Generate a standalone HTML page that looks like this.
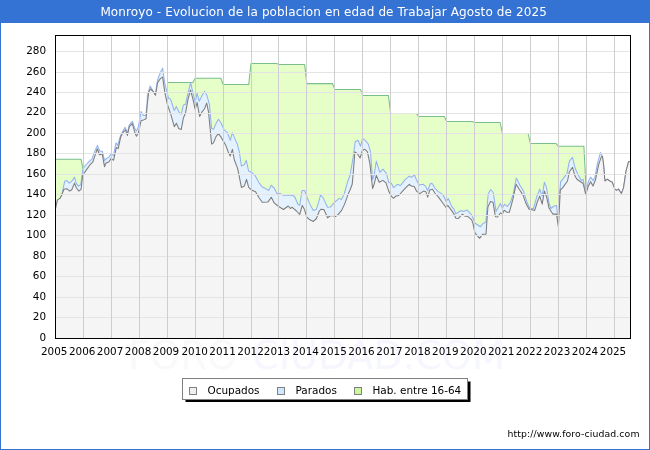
<!DOCTYPE html>
<html><head><meta charset="utf-8"><title>Monroyo</title>
<style>html,body{margin:0;padding:0;background:#fff;width:650px;height:450px;overflow:hidden}</style>
</head><body>
<svg width="650" height="450" viewBox="0 0 650 450" style="position:absolute;left:0;top:0;will-change:transform" font-family="'DejaVu Sans','Liberation Sans',sans-serif">
<rect x="0" y="0" width="650" height="450" fill="#fff"/>
<text x="128" y="368.5" font-size="38.4" textLength="377" lengthAdjust="spacingAndGlyphs"><tspan fill="#f9f9f9">FORO-</tspan><tspan fill="#f6f6ff">CIUDAD.COM</tspan></text>
<rect x="55" y="35" width="576" height="304" fill="#fff"/>
<clipPath id="cp"><rect x="55" y="35" width="576" height="304"/></clipPath>
<g clip-path="url(#cp)">
<polygon points="55.5,159.3 81.1,159.3 83.4,171.0 84,339 55,339" fill="#e6ffc8"/>
<polygon points="167.2,82.4 192.8,82.4 195.2,78.3 220.8,78.3 223.1,84.5 248.7,84.5 251.0,63.5 276.7,63.5 279.0,64.4 304.6,64.4 306.9,83.6 332.5,83.6 334.9,89.4 360.5,89.4 362.8,95.4 388.4,95.4 390.7,113.4 416.3,113.4 418.7,116.4 444.3,116.4 446.6,121.5 472.2,121.5 474.5,122.4 500.1,122.4 502.5,133.5 528.1,133.5 530.4,143.4 556.0,143.4 558.3,146.3 583.9,146.3 586.3,193.5 586.3,339 167.2,339" fill="#e6ffc8"/>
<polyline points="55.5,159.3 81.1,159.3 83.4,171.0" fill="none" stroke="#7abf8b" stroke-width="1.05"/>
<polyline points="167.2,82.4 192.8,82.4 195.2,78.3 220.8,78.3 223.1,84.5 248.7,84.5 251.0,63.5 276.7,63.5 279.0,64.4 304.6,64.4 306.9,83.6 332.5,83.6 334.9,89.4 360.5,89.4 362.8,95.4 388.4,95.4 390.7,113.4 416.3,113.4 418.7,116.4 444.3,116.4 446.6,121.5 472.2,121.5 474.5,122.4 500.1,122.4 502.5,133.5 528.1,133.5 530.4,143.4 556.0,143.4 558.3,146.3 583.9,146.3 586.3,193.5" fill="none" stroke="#7abf8b" stroke-width="1.05"/>
<polygon points="55.5,208.6 57.5,199.9 60.0,198.4 61.8,194.9 63.1,188.7 64.7,181.2 66.8,180.6 69.3,183.1 71.8,181.2 74.5,177.2 76.4,183.7 78.4,186.2 80.8,184.3 82.6,171.2 84.2,166.9 88.1,162.5 92.1,158.8 94.0,152.9 97.4,145.4 99.9,151.3 102.4,151.3 104.6,160.7 106.1,158.8 109.2,156.9 110.8,154.1 113.6,155.4 116.0,142.8 117.6,145.4 120.6,135.4 123.1,130.5 125.2,127.4 127.4,133.0 129.3,124.9 132.4,121.4 134.6,128.0 136.4,131.1 138.4,126.7 141.1,111.4 143.3,115.5 145.8,115.5 147.1,103.7 147.4,95.8 150.1,85.9 153.0,90.8 155.5,93.9 157.6,79.6 160.5,72.2 162.6,68.2 164.8,83.4 167.3,93.3 168.6,98.3 170.4,98.9 172.3,104.5 174.2,110.6 176.3,106.4 178.5,111.3 181.2,114.3 183.4,104.9 185.5,104.3 188.0,93.1 190.6,82.7 193.0,93.1 195.2,102.4 197.1,93.1 199.2,101.2 201.7,96.2 204.5,91.2 207.0,95.6 209.5,104.9 211.6,128.6 213.5,129.2 216.0,123.6 218.5,119.2 221.0,123.0 224.1,129.8 227.2,132.3 230.3,140.4 232.3,132.7 234.8,138.6 237.4,144.3 239.3,151.7 241.4,166.0 244.2,164.8 246.3,160.4 248.6,171.0 252.1,172.5 255.5,176.2 259.2,183.0 262.3,187.1 265.4,188.4 268.6,190.5 271.3,185.3 274.2,188.0 277.0,193.4 280.4,193.6 283.5,195.2 292.2,195.2 294.7,196.7 297.8,204.0 299.7,205.4 302.1,190.5 304.6,190.5 307.3,198.0 310.5,205.4 313.4,210.4 316.4,209.2 318.6,202.3 320.5,195.2 323.0,197.4 325.5,203.0 327.6,207.3 330.4,207.1 332.9,204.2 335.4,201.7 339.2,198.4 341.3,199.6 344.1,194.3 347.2,183.1 350.2,174.5 353.1,157.4 355.2,141.8 358.0,140.2 360.5,146.2 362.6,138.5 365.5,140.6 368.4,144.3 370.5,151.8 372.6,179.8 374.2,174.8 376.3,161.1 379.8,172.3 382.9,169.2 386.4,173.3 388.7,182.4 391.2,183.0 393.5,187.6 397.4,184.3 400.5,185.5 404.9,179.9 409.3,176.2 411.4,177.4 414.5,175.0 416.7,180.5 419.2,184.9 422.9,184.3 425.4,185.9 427.7,190.5 430.4,183.4 432.5,183.7 434.8,188.0 437.9,191.4 441.6,193.6 444.1,196.7 446.2,201.7 448.2,198.5 451.7,206.3 454.0,209.2 455.8,213.8 461.2,210.5 463.7,211.4 467.1,210.1 471.7,214.9 474.9,223.0 480.4,226.7 482.9,223.6 485.8,222.3 488.2,194.0 490.7,189.5 493.3,192.8 496.0,211.5 500.4,203.4 502.3,208.3 504.5,204.3 507.2,206.4 510.4,202.6 513.2,194.0 516.3,178.1 519.8,184.9 523.5,191.1 526.6,201.1 529.8,208.5 533.5,208.5 536.6,197.3 539.7,189.3 542.2,196.1 544.4,182.2 546.5,187.4 549.0,202.9 550.9,208.5 554.0,206.0 556.5,205.4 557.4,214.0 558.4,226.5 559.6,195.0 560.6,181.7 563.2,178.6 566.9,173.6 569.4,161.1 572.5,157.4 575.0,168.0 578.1,174.8 581.2,180.4 583.1,179.2 585.8,193.5 588.1,182.3 590.6,177.1 593.0,180.4 594.9,177.3 597.4,163.6 600.5,152.4 602.4,156.2 603.6,164.9 604.9,181.0 607.3,179.2 609.8,181.0 612.3,182.3 614.8,189.1 616.7,190.4 618.5,189.1 621.4,193.5 623.5,187.9 626.0,171.1 628.5,161.8 630.4,161.4 630.5,339 55.5,339" fill="#e4f2ff"/>
<polyline points="55.5,208.6 57.5,199.9 60.0,198.4 61.8,194.9 63.1,188.7 64.7,181.2 66.8,180.6 69.3,183.1 71.8,181.2 74.5,177.2 76.4,183.7 78.4,186.2 80.8,184.3 82.6,171.2 84.2,166.9 88.1,162.5 92.1,158.8 94.0,152.9 97.4,145.4 99.9,151.3 102.4,151.3 104.6,160.7 106.1,158.8 109.2,156.9 110.8,154.1 113.6,155.4 116.0,142.8 117.6,145.4 120.6,135.4 123.1,130.5 125.2,127.4 127.4,133.0 129.3,124.9 132.4,121.4 134.6,128.0 136.4,131.1 138.4,126.7 141.1,111.4 143.3,115.5 145.8,115.5 147.1,103.7 147.4,95.8 150.1,85.9 153.0,90.8 155.5,93.9 157.6,79.6 160.5,72.2 162.6,68.2 164.8,83.4 167.3,93.3 168.6,98.3 170.4,98.9 172.3,104.5 174.2,110.6 176.3,106.4 178.5,111.3 181.2,114.3 183.4,104.9 185.5,104.3 188.0,93.1 190.6,82.7 193.0,93.1 195.2,102.4 197.1,93.1 199.2,101.2 201.7,96.2 204.5,91.2 207.0,95.6 209.5,104.9 211.6,128.6 213.5,129.2 216.0,123.6 218.5,119.2 221.0,123.0 224.1,129.8 227.2,132.3 230.3,140.4 232.3,132.7 234.8,138.6 237.4,144.3 239.3,151.7 241.4,166.0 244.2,164.8 246.3,160.4 248.6,171.0 252.1,172.5 255.5,176.2 259.2,183.0 262.3,187.1 265.4,188.4 268.6,190.5 271.3,185.3 274.2,188.0 277.0,193.4 280.4,193.6 283.5,195.2 292.2,195.2 294.7,196.7 297.8,204.0 299.7,205.4 302.1,190.5 304.6,190.5 307.3,198.0 310.5,205.4 313.4,210.4 316.4,209.2 318.6,202.3 320.5,195.2 323.0,197.4 325.5,203.0 327.6,207.3 330.4,207.1 332.9,204.2 335.4,201.7 339.2,198.4 341.3,199.6 344.1,194.3 347.2,183.1 350.2,174.5 353.1,157.4 355.2,141.8 358.0,140.2 360.5,146.2 362.6,138.5 365.5,140.6 368.4,144.3 370.5,151.8 372.6,179.8 374.2,174.8 376.3,161.1 379.8,172.3 382.9,169.2 386.4,173.3 388.7,182.4 391.2,183.0 393.5,187.6 397.4,184.3 400.5,185.5 404.9,179.9 409.3,176.2 411.4,177.4 414.5,175.0 416.7,180.5 419.2,184.9 422.9,184.3 425.4,185.9 427.7,190.5 430.4,183.4 432.5,183.7 434.8,188.0 437.9,191.4 441.6,193.6 444.1,196.7 446.2,201.7 448.2,198.5 451.7,206.3 454.0,209.2 455.8,213.8 461.2,210.5 463.7,211.4 467.1,210.1 471.7,214.9 474.9,223.0 480.4,226.7 482.9,223.6 485.8,222.3 488.2,194.0 490.7,189.5 493.3,192.8 496.0,211.5 500.4,203.4 502.3,208.3 504.5,204.3 507.2,206.4 510.4,202.6 513.2,194.0 516.3,178.1 519.8,184.9 523.5,191.1 526.6,201.1 529.8,208.5 533.5,208.5 536.6,197.3 539.7,189.3 542.2,196.1 544.4,182.2 546.5,187.4 549.0,202.9 550.9,208.5 554.0,206.0 556.5,205.4 557.4,214.0 558.4,226.5 559.6,195.0 560.6,181.7 563.2,178.6 566.9,173.6 569.4,161.1 572.5,157.4 575.0,168.0 578.1,174.8 581.2,180.4 583.1,179.2 585.8,193.5 588.1,182.3 590.6,177.1 593.0,180.4 594.9,177.3 597.4,163.6 600.5,152.4 602.4,156.2 603.6,164.9 604.9,181.0 607.3,179.2 609.8,181.0 612.3,182.3 614.8,189.1 616.7,190.4 618.5,189.1 621.4,193.5 623.5,187.9 626.0,171.1 628.5,161.8 630.4,161.4" fill="none" stroke="#93b2ed" stroke-width="1.05" stroke-linejoin="round"/>
<polygon points="55.5,208.6 57.5,199.9 60.0,198.4 61.8,194.9 63.9,189.3 66.8,188.7 69.7,191.1 71.8,189.7 74.5,183.1 76.4,188.0 78.9,191.1 81.1,189.3 82.6,175.5 84.2,173.0 87.3,168.6 90.4,164.3 92.9,161.8 94.8,156.2 97.3,148.7 99.5,154.7 102.2,153.9 104.5,166.7 106.0,163.0 108.8,162.0 111.0,158.6 113.6,160.2 116.3,147.5 118.2,148.6 120.6,137.3 123.1,132.3 125.5,129.9 127.4,135.4 129.3,126.7 132.4,123.6 134.6,131.7 136.4,136.3 138.4,133.0 141.1,120.5 143.6,119.9 146.1,118.7 147.3,103.7 148.7,92.1 150.5,89.0 153.0,91.4 155.5,95.2 157.6,82.7 160.5,78.4 162.6,77.1 164.8,92.1 167.5,104.9 170.6,113.6 174.3,126.7 176.4,123.3 178.7,128.6 181.2,129.6 183.4,118.0 185.5,113.0 188.0,99.3 190.5,90.0 193.0,99.3 195.2,109.3 197.1,102.4 199.6,116.4 201.7,112.4 204.5,108.7 206.7,103.1 208.5,111.8 211.6,144.1 213.5,142.9 216.0,136.6 218.5,133.5 221.2,137.4 225.6,144.9 228.1,151.7 230.2,156.1 232.4,149.3 234.3,159.8 237.4,167.9 238.7,173.7 241.4,187.4 244.3,186.1 246.5,179.3 248.7,187.4 251.4,189.9 255.5,191.7 259.2,198.0 262.3,202.3 267.9,202.1 271.3,197.3 274.2,202.9 277.9,206.0 283.5,209.5 288.2,206.0 290.3,208.5 292.2,207.3 296.5,211.0 299.7,214.5 302.3,205.4 304.6,209.8 306.6,217.0 309.9,219.8 313.4,221.4 316.4,218.5 319.3,211.0 321.1,209.2 323.9,209.6 326.1,214.2 327.6,217.9 329.8,216.0 332.3,215.4 335.4,216.6 337.9,214.8 341.6,210.4 344.8,203.6 347.9,194.9 350.3,189.3 352.2,184.3 353.3,172.3 354.9,151.8 357.4,153.7 360.1,158.0 362.4,150.5 364.9,149.3 367.4,151.8 369.9,163.6 372.6,188.5 374.2,184.1 376.3,175.4 379.2,182.3 382.9,180.4 386.0,182.9 388.7,191.1 391.2,196.1 393.5,198.3 395.6,196.3 398.7,195.5 403.7,189.9 407.4,186.1 409.3,184.3 411.4,186.1 414.2,186.4 416.7,191.4 419.8,193.6 423.6,191.1 425.8,191.7 427.7,197.1 429.8,189.9 432.5,189.3 434.8,193.0 438.5,197.1 442.2,202.3 445.9,207.3 447.8,205.4 451.5,210.4 454.0,214.1 455.9,218.3 458.4,218.4 462.4,214.2 464.9,216.1 467.4,216.1 471.7,219.9 473.0,223.6 474.9,232.9 479.6,238.3 482.9,234.2 486.0,234.2 487.9,207.0 490.5,201.5 493.0,202.3 495.4,216.7 497.5,217.0 500.4,213.0 502.3,213.9 504.2,210.2 506.9,212.3 509.3,212.3 512.7,200.2 516.1,184.3 519.2,189.3 522.9,194.9 526.0,203.6 529.1,209.2 532.2,209.8 534.7,210.4 537.2,202.3 539.7,196.1 542.2,204.2 544.4,191.1 546.5,196.7 549.0,207.9 552.8,214.1 556.5,214.1 558.4,227.0 560.3,190.0 562.6,187.9 567.5,181.0 569.4,171.7 572.5,167.4 575.0,176.1 576.9,179.2 580.6,181.7 583.1,183.5 585.8,194.7 588.1,186.6 590.6,181.7 593.0,186.0 595.5,179.8 598.6,164.9 601.1,157.4 602.4,156.2 603.6,164.9 604.9,181.0 607.3,179.2 609.8,181.0 612.3,182.3 614.8,189.1 616.7,190.4 618.5,189.1 621.4,193.5 623.5,187.9 626.0,171.1 628.5,161.8 630.4,161.4 630.5,339 55.5,339" fill="#f5f5f5"/>
<polyline points="55.5,208.6 57.5,199.9 60.0,198.4 61.8,194.9 63.9,189.3 66.8,188.7 69.7,191.1 71.8,189.7 74.5,183.1 76.4,188.0 78.9,191.1 81.1,189.3 82.6,175.5 84.2,173.0 87.3,168.6 90.4,164.3 92.9,161.8 94.8,156.2 97.3,148.7 99.5,154.7 102.2,153.9 104.5,166.7 106.0,163.0 108.8,162.0 111.0,158.6 113.6,160.2 116.3,147.5 118.2,148.6 120.6,137.3 123.1,132.3 125.5,129.9 127.4,135.4 129.3,126.7 132.4,123.6 134.6,131.7 136.4,136.3 138.4,133.0 141.1,120.5 143.6,119.9 146.1,118.7 147.3,103.7 148.7,92.1 150.5,89.0 153.0,91.4 155.5,95.2 157.6,82.7 160.5,78.4 162.6,77.1 164.8,92.1 167.5,104.9 170.6,113.6 174.3,126.7 176.4,123.3 178.7,128.6 181.2,129.6 183.4,118.0 185.5,113.0 188.0,99.3 190.5,90.0 193.0,99.3 195.2,109.3 197.1,102.4 199.6,116.4 201.7,112.4 204.5,108.7 206.7,103.1 208.5,111.8 211.6,144.1 213.5,142.9 216.0,136.6 218.5,133.5 221.2,137.4 225.6,144.9 228.1,151.7 230.2,156.1 232.4,149.3 234.3,159.8 237.4,167.9 238.7,173.7 241.4,187.4 244.3,186.1 246.5,179.3 248.7,187.4 251.4,189.9 255.5,191.7 259.2,198.0 262.3,202.3 267.9,202.1 271.3,197.3 274.2,202.9 277.9,206.0 283.5,209.5 288.2,206.0 290.3,208.5 292.2,207.3 296.5,211.0 299.7,214.5 302.3,205.4 304.6,209.8 306.6,217.0 309.9,219.8 313.4,221.4 316.4,218.5 319.3,211.0 321.1,209.2 323.9,209.6 326.1,214.2 327.6,217.9 329.8,216.0 332.3,215.4 335.4,216.6 337.9,214.8 341.6,210.4 344.8,203.6 347.9,194.9 350.3,189.3 352.2,184.3 353.3,172.3 354.9,151.8 357.4,153.7 360.1,158.0 362.4,150.5 364.9,149.3 367.4,151.8 369.9,163.6 372.6,188.5 374.2,184.1 376.3,175.4 379.2,182.3 382.9,180.4 386.0,182.9 388.7,191.1 391.2,196.1 393.5,198.3 395.6,196.3 398.7,195.5 403.7,189.9 407.4,186.1 409.3,184.3 411.4,186.1 414.2,186.4 416.7,191.4 419.8,193.6 423.6,191.1 425.8,191.7 427.7,197.1 429.8,189.9 432.5,189.3 434.8,193.0 438.5,197.1 442.2,202.3 445.9,207.3 447.8,205.4 451.5,210.4 454.0,214.1 455.9,218.3 458.4,218.4 462.4,214.2 464.9,216.1 467.4,216.1 471.7,219.9 473.0,223.6 474.9,232.9 479.6,238.3 482.9,234.2 486.0,234.2 487.9,207.0 490.5,201.5 493.0,202.3 495.4,216.7 497.5,217.0 500.4,213.0 502.3,213.9 504.2,210.2 506.9,212.3 509.3,212.3 512.7,200.2 516.1,184.3 519.2,189.3 522.9,194.9 526.0,203.6 529.1,209.2 532.2,209.8 534.7,210.4 537.2,202.3 539.7,196.1 542.2,204.2 544.4,191.1 546.5,196.7 549.0,207.9 552.8,214.1 556.5,214.1 558.4,227.0 560.3,190.0 562.6,187.9 567.5,181.0 569.4,171.7 572.5,167.4 575.0,176.1 576.9,179.2 580.6,181.7 583.1,183.5 585.8,194.7 588.1,186.6 590.6,181.7 593.0,186.0 595.5,179.8 598.6,164.9 601.1,157.4 602.4,156.2 603.6,164.9 604.9,181.0 607.3,179.2 609.8,181.0 612.3,182.3 614.8,189.1 616.7,190.4 618.5,189.1 621.4,193.5 623.5,187.9 626.0,171.1 628.5,161.8 630.4,161.4" fill="none" stroke="#7c7c7c" stroke-width="1.05" stroke-linejoin="round"/>
<line x1="55" y1="317.5" x2="630" y2="317.5" stroke="#e4e4e4" stroke-width="1"/>
<line x1="55" y1="297.5" x2="630" y2="297.5" stroke="#e4e4e4" stroke-width="1"/>
<line x1="55" y1="276.5" x2="630" y2="276.5" stroke="#e4e4e4" stroke-width="1"/>
<line x1="55" y1="256.5" x2="630" y2="256.5" stroke="#e4e4e4" stroke-width="1"/>
<line x1="55" y1="235.5" x2="630" y2="235.5" stroke="#e4e4e4" stroke-width="1"/>
<line x1="55" y1="215.5" x2="630" y2="215.5" stroke="#e4e4e4" stroke-width="1"/>
<line x1="55" y1="194.5" x2="630" y2="194.5" stroke="#e4e4e4" stroke-width="1"/>
<line x1="55" y1="174.5" x2="630" y2="174.5" stroke="#e4e4e4" stroke-width="1"/>
<line x1="55" y1="153.5" x2="630" y2="153.5" stroke="#e4e4e4" stroke-width="1"/>
<line x1="55" y1="133.5" x2="630" y2="133.5" stroke="#e4e4e4" stroke-width="1"/>
<line x1="55" y1="113.5" x2="630" y2="113.5" stroke="#e4e4e4" stroke-width="1"/>
<line x1="55" y1="92.5" x2="630" y2="92.5" stroke="#e4e4e4" stroke-width="1"/>
<line x1="55" y1="72.5" x2="630" y2="72.5" stroke="#e4e4e4" stroke-width="1"/>
<line x1="55" y1="51.5" x2="630" y2="51.5" stroke="#e4e4e4" stroke-width="1"/>
<line x1="83.5" y1="35" x2="83.5" y2="338" stroke="#cecece" stroke-width="1"/>
<line x1="111.5" y1="35" x2="111.5" y2="338" stroke="#cecece" stroke-width="1"/>
<line x1="139.5" y1="35" x2="139.5" y2="338" stroke="#cecece" stroke-width="1"/>
<line x1="167.5" y1="35" x2="167.5" y2="338" stroke="#cecece" stroke-width="1"/>
<line x1="195.5" y1="35" x2="195.5" y2="338" stroke="#cecece" stroke-width="1"/>
<line x1="223.5" y1="35" x2="223.5" y2="338" stroke="#cecece" stroke-width="1"/>
<line x1="251.5" y1="35" x2="251.5" y2="338" stroke="#cecece" stroke-width="1"/>
<line x1="278.5" y1="35" x2="278.5" y2="338" stroke="#cecece" stroke-width="1"/>
<line x1="306.5" y1="35" x2="306.5" y2="338" stroke="#cecece" stroke-width="1"/>
<line x1="334.5" y1="35" x2="334.5" y2="338" stroke="#cecece" stroke-width="1"/>
<line x1="362.5" y1="35" x2="362.5" y2="338" stroke="#cecece" stroke-width="1"/>
<line x1="390.5" y1="35" x2="390.5" y2="338" stroke="#cecece" stroke-width="1"/>
<line x1="418.5" y1="35" x2="418.5" y2="338" stroke="#cecece" stroke-width="1"/>
<line x1="446.5" y1="35" x2="446.5" y2="338" stroke="#cecece" stroke-width="1"/>
<line x1="474.5" y1="35" x2="474.5" y2="338" stroke="#cecece" stroke-width="1"/>
<line x1="502.5" y1="35" x2="502.5" y2="338" stroke="#cecece" stroke-width="1"/>
<line x1="530.5" y1="35" x2="530.5" y2="338" stroke="#cecece" stroke-width="1"/>
<line x1="558.5" y1="35" x2="558.5" y2="338" stroke="#cecece" stroke-width="1"/>
<line x1="586.5" y1="35" x2="586.5" y2="338" stroke="#cecece" stroke-width="1"/>
<line x1="614.5" y1="35" x2="614.5" y2="338" stroke="#cecece" stroke-width="1"/>
</g>
<rect x="55.5" y="35.5" width="575" height="303" fill="none" stroke="#000" stroke-width="1"/>
<text x="46" y="340.6" text-anchor="end" font-size="10.4" fill="#000">0</text>
<text x="46" y="320.1" text-anchor="end" font-size="10.4" fill="#000">20</text>
<text x="46" y="299.7" text-anchor="end" font-size="10.4" fill="#000">40</text>
<text x="46" y="279.2" text-anchor="end" font-size="10.4" fill="#000">60</text>
<text x="46" y="258.7" text-anchor="end" font-size="10.4" fill="#000">80</text>
<text x="46" y="238.2" text-anchor="end" font-size="10.4" fill="#000">100</text>
<text x="46" y="217.8" text-anchor="end" font-size="10.4" fill="#000">120</text>
<text x="46" y="197.3" text-anchor="end" font-size="10.4" fill="#000">140</text>
<text x="46" y="176.8" text-anchor="end" font-size="10.4" fill="#000">160</text>
<text x="46" y="156.4" text-anchor="end" font-size="10.4" fill="#000">180</text>
<text x="46" y="135.9" text-anchor="end" font-size="10.4" fill="#000">200</text>
<text x="46" y="115.4" text-anchor="end" font-size="10.4" fill="#000">220</text>
<text x="46" y="94.9" text-anchor="end" font-size="10.4" fill="#000">240</text>
<text x="46" y="74.5" text-anchor="end" font-size="10.4" fill="#000">260</text>
<text x="46" y="54.0" text-anchor="end" font-size="10.4" fill="#000">280</text>
<text x="54.2" y="355" text-anchor="middle" font-size="10.4" fill="#000">2005</text>
<text x="82.2" y="355" text-anchor="middle" font-size="10.4" fill="#000">2006</text>
<text x="110.1" y="355" text-anchor="middle" font-size="10.4" fill="#000">2007</text>
<text x="138.1" y="355" text-anchor="middle" font-size="10.4" fill="#000">2008</text>
<text x="166.0" y="355" text-anchor="middle" font-size="10.4" fill="#000">2009</text>
<text x="194.7" y="355" text-anchor="middle" font-size="10.4" fill="#000">2010</text>
<text x="222.6" y="355" text-anchor="middle" font-size="10.4" fill="#000">2011</text>
<text x="250.6" y="355" text-anchor="middle" font-size="10.4" fill="#000">2012</text>
<text x="277.0" y="355" text-anchor="middle" font-size="10.4" fill="#000">2013</text>
<text x="305.7" y="355" text-anchor="middle" font-size="10.4" fill="#000">2014</text>
<text x="333.6" y="355" text-anchor="middle" font-size="10.4" fill="#000">2015</text>
<text x="361.5" y="355" text-anchor="middle" font-size="10.4" fill="#000">2016</text>
<text x="389.5" y="355" text-anchor="middle" font-size="10.4" fill="#000">2017</text>
<text x="417.4" y="355" text-anchor="middle" font-size="10.4" fill="#000">2018</text>
<text x="445.3" y="355" text-anchor="middle" font-size="10.4" fill="#000">2019</text>
<text x="473.3" y="355" text-anchor="middle" font-size="10.4" fill="#000">2020</text>
<text x="501.2" y="355" text-anchor="middle" font-size="10.4" fill="#000">2021</text>
<text x="529.1" y="355" text-anchor="middle" font-size="10.4" fill="#000">2022</text>
<text x="557.1" y="355" text-anchor="middle" font-size="10.4" fill="#000">2023</text>
<text x="585.0" y="355" text-anchor="middle" font-size="10.4" fill="#000">2024</text>
<text x="613.0" y="355" text-anchor="middle" font-size="10.4" fill="#000">2025</text>
<rect x="0" y="0" width="650" height="23" fill="#3472d4"/>
<text x="100.4" y="16" font-size="12" textLength="446.4" fill="#fff">Monroyo - Evolucion de la poblacion en edad de Trabajar Agosto de 2025</text>
<rect x="185.5" y="381.5" width="285" height="20.5" fill="#000"/>
<rect x="182.5" y="378.5" width="285" height="21" fill="#fff" stroke="#7f7f7f"/>
<rect x="189.5" y="387.5" width="7" height="7" fill="#f0f0f0" stroke="#808080"/>
<text x="207.5" y="394" font-size="10.45" fill="#000">Ocupados</text>
<rect x="277.5" y="387.5" width="7" height="7" fill="#cfe8ff" stroke="#808080"/>
<text x="295.5" y="394" font-size="10.45" fill="#000">Parados</text>
<rect x="354.5" y="387.5" width="7" height="7" fill="#ccf79a" stroke="#808080"/>
<text x="372.5" y="394" font-size="10.45" fill="#000">Hab. entre 16-64</text>
<text x="507.5" y="437" font-size="9.33" textLength="132" fill="#000">http://www.foro-ciudad.com</text>
<rect x="0.5" y="0.5" width="649" height="449" fill="none" stroke="#3472d4" stroke-width="1"/>
</svg>
</body></html>
